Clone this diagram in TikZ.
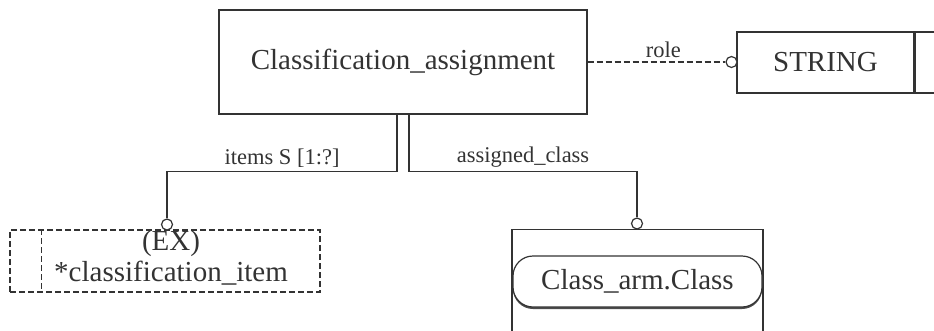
\documentclass[tikz,border=0pt]{standalone}
\usepackage{fontspec}
\setmainfont{Liberation Serif}
\usetikzlibrary{shadows}
\tikzset{>=stealth}
\tikzset{
    entbox/.style={draw, rectangle, line width=1.2pt, inner sep=0pt},
    selbox/.style={draw, dash pattern=on 6pt off 3pt, rectangle, line width=1.2pt, inner sep=0pt},
    tipcirc/.style={draw, circle, minimum size=11pt, inner sep=0pt, line width=1.2pt, fill=white},
    relline/.style={line width=1.2pt},
    bigtext/.style={font=\fontsize{29}{31}\selectfont},
    smalltext/.style={font=\fontsize{22.5}{24}\selectfont},
}

\begin{document}
\begin{tikzpicture}[x=1pt,y=-1pt,color=black!80]
    \useasboundingbox (0,0) rectangle (934,330);
    \clip (0,0) rectangle (934,330);

    \node[entbox, bigtext, minimum width=368pt, minimum height=104pt] (assign) at (403,62) {Classification\_assignment};

    \node[entbox, bigtext, minimum width=177pt, minimum height=61pt] (string) at (825.5,62.5) {STRING};
    \node[entbox, minimum width=50pt, minimum height=61pt, anchor=west] (stringx) at (string.east) {};
    \node[tipcirc] (rolecirc) at (731.5,62) {};
    \draw[relline, dash pattern=on 6pt off 3pt] (assign.east) -- node[above, smalltext, pos=.55] {role} (rolecirc.west);


    \node[selbox, minimum width=310pt, minimum height=62pt] (item) at (165,261) {};
    \draw[relline, dash pattern=on 6pt off 3pt] ([xshift=32pt]item.north west) -- ([xshift=32pt]item.south west);
    \node[bigtext, align=center] (itemtxt) at (171,258) {(EX)\\*classification\_item};
    \node[tipcirc] (itemcirc) at (167,224.5) {};


    \node[entbox, minimum width=251pt, minimum height=131pt, anchor=north] (clsbox) at (637.5,229) {};
    \node[draw, rounded corners=20pt, line width=1.2pt, bigtext, minimum width=249pt, minimum height=51pt, fill=white,
        drop shadow={shadow xshift=0pt, shadow yshift=-2pt, fill=black!70, opacity=1}] (cls) at (637.5,281.5) {Class\_arm.Class};
    \node[tipcirc] (clscirc) at (637,223.5) {};


    \draw[relline] ([xshift=-6pt]assign.south) -- ++(0,57) -| node[pos=.25, above, smalltext] {items S [1:?]} (itemcirc.north);
    \draw[relline] ([xshift=6pt]assign.south) -- ++(0,57) -| node[pos=.25, above, smalltext] {assigned\_class} (clscirc.north);
\end{tikzpicture}
\end{document}
